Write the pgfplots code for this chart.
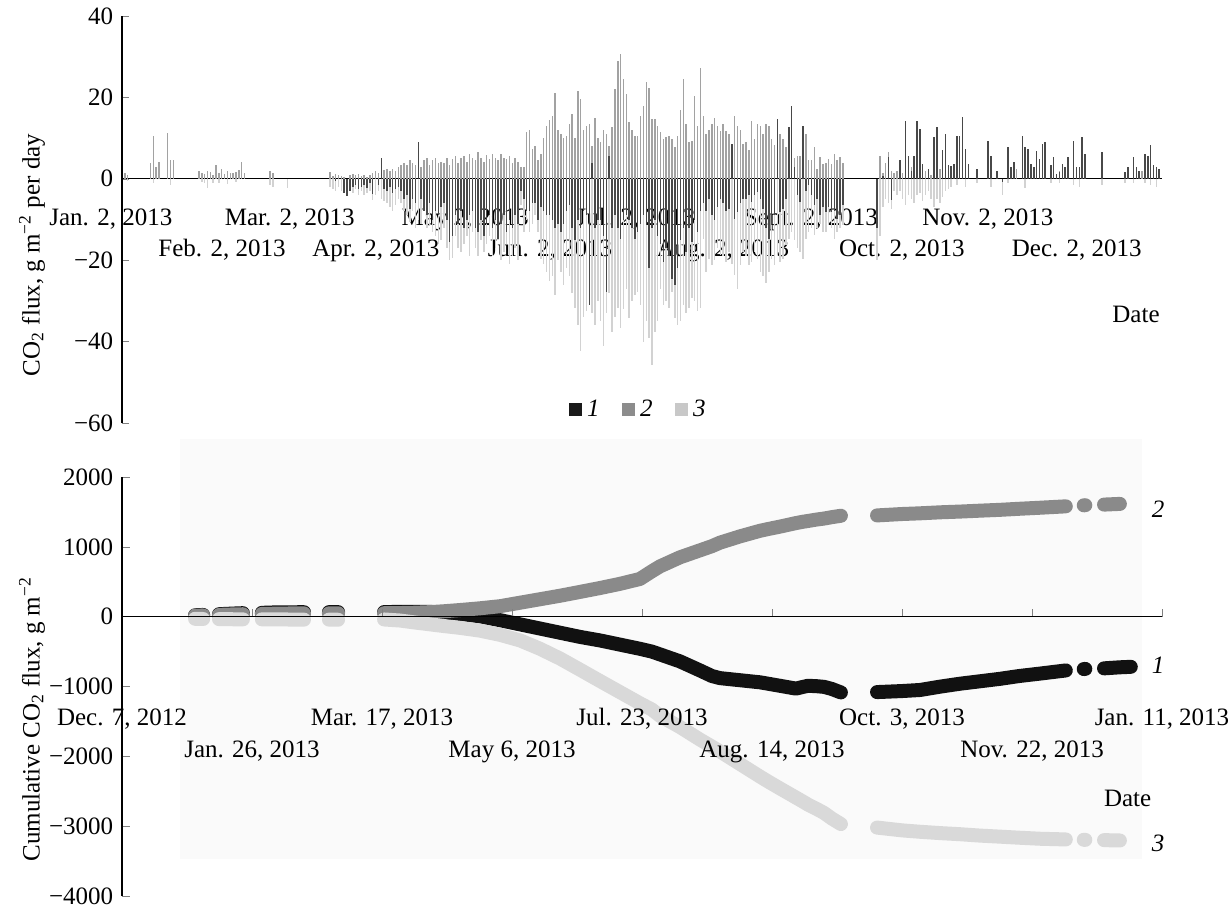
\documentclass[border=0pt]{standalone}
\usepackage{fontspec}
\setmainfont{Liberation Serif}
\usepackage{pgfplots}
\usepackage{pgfplotstable}
\pgfplotsset{compat=1.18}
\definecolor{cA}{HTML}{484848}
\definecolor{cB}{HTML}{A2A2A2}
\definecolor{cC}{HTML}{D2D2D2}
\definecolor{lA}{HTML}{1A1A1A}
\definecolor{lB}{HTML}{8C8C8C}
\definecolor{lC}{HTML}{C8C8C8}
\definecolor{kA}{HTML}{111111}
\definecolor{kB}{HTML}{8A8A8A}
\definecolor{kC}{HTML}{D9D9D9}

% daily CO2 flux: s1 = net flux, s2 = respiration, s3 = gross uptake (day of year)
\pgfplotstableread{
t s1 s2 s3
1 nan 1.4 nan
2 nan 1.0 -0.6
10 nan 4.0 nan
11 nan 10.5 -1.0
12 nan 3.0 nan
13 nan 4.2 nan
16 nan 11.2 nan
17 nan 4.5 -1.6
18 nan 4.6 nan
27 nan 1.8 nan
28 nan 1.5 -0.8
29 nan 1.2 -1.0
30 nan 1.8 -2.2
31 nan 1.6 nan
32 nan 1.0 -1.0
33 nan 3.3 nan
34 nan 1.5 -1.0
35 nan 2.5 nan
36 nan 1.2 nan
37 nan 1.8 -1.2
38 nan 1.5 nan
39 nan 1.4 nan
40 nan 1.6 -0.8
41 nan 2.2 nan
42 nan 4.2 nan
43 nan 1.5 nan
52 nan 1.8 -1.5
53 nan 1.5 -2.0
58 nan nan -2.2
73 nan 1.7 -2.0
74 nan 0.8 -2.5
75 -0.5 1.2 -3.0
76 nan 1.0 -2.0
77 nan 0.8 -3.0
78 -3.5 0.5 -3.5
79 -4.3 nan -4.0
80 -3.0 1.0 -3.0
81 -2.0 1.2 -3.5
82 -1.5 1.0 -2.5
83 -2.5 1.2 -4.0
84 -2.0 0.8 -3.0
85 -1.5 1.0 -4.0
86 -2.2 0.5 -3.5
87 -1.0 1.0 -3.0
88 -3.7 1.5 -5.3
89 nan 2 -4
90 -1.5 1.5 -3
91 5 2 -5
92 -2.5 2.2 -5.5
93 -3 2.5 -6
94 -2 2 -7
95 -3.5 2.5 -8
96 -2.5 2 -6.5
97 -2 3 -5
98 -3 3.5 -6
99 -5 4 -8
100 -4 3.3 -9
101 -7.3 4.5 -10.6
102 -5 4 -8
103 -6 3.5 -12
104 9 4 -10
105 -5 3 -11
106 -8 4.5 -8
107 -9 5 -12
108 -6 3.5 -11.5
109 -10 4.5 -13
110 -8 5 -14
111 -9 3.8 -16
112 -7 4.2 -15
113 -6 4 -12
114 -10 5 -17
115 -15.5 3.5 -20
116 -14 4.8 -19.5
117 -9 5.5 -14
118 -11 4 -17
119 -8 5 -18
120 -12 5.5 -16
121 -10 4.2 -14
122 -9 6 -19
123 -8 5 -13
124 -12 4.5 -17
125 -13 6.5 -19
126 -10 5 -15
127 -14 4.2 -18
128 -11 5.8 -16
129 -9 4.8 -14
130 -12 6 -19
131 -10 5.2 -17
132 -14.7 4.5 -15
133 -11 6.2 -20
134 -9 5 -18
135 -13 4.8 -16
136 -10 5.5 -21
137 -12 3.8 -19
138 -9 5 -17
139 -11 4.2 -20
140 -3 3 -6.5
141 -5 3 -13
142 -8 11.4 -10
143 -8 12 -13
144 -6 7.3 -11
145 -6 8 -9
146 -10 4.5 -13
147 -7 6 -19.6
148 -8 10 -21
149 -9 13 -23
150 -9 14.5 -25
151 -10 15.5 -24
152 -12 21 -28.6
153 -11 12 -20
154 -13 11 -23
155 -11 10 -26
156 -8 10.6 -22
157 -6.5 13.5 -24
158 -12 16 -28
159 -15 10 -31.8
160 -10 21.6 -36
161 -12 19.6 -42.4
162 -8 12 -34
163 -9 13 -32.6
164 -31 13.5 -31
165 4 8 -33
166 -12 15 -36
167 -10 10 -30
168 -10 9 -35
169 -14 12 -41
170 -27.8 11 -33
171 5.7 8 -28
172 -12 12.7 -37.6
173 -9 22 -34
174 -12 29 -31.8
175 -14.7 30.6 -36.7
176 -10 24.5 -32
177 -9 20.8 -27
178 -10 14 -34.3
179 -12 12 -30
180 -14.7 10.6 -28.6
181 -13 10.6 -27.8
182 -11 15.5 -31
183 -9 18 -40
184 -11.4 23.7 -35
185 -22 22.4 -39
186 -12.2 14.7 -45.7
187 -10 14.7 -37.6
188 -14 13 -35
189 -16 11.4 -27
190 -20.4 9.8 -31
191 -17 10.2 -30
192 -19 10.6 -31.8
193 -24.5 9.8 -27.8
194 -26 7.8 -34.3
195 -22 10.6 -35.9
196 -15 17 -35
197 -12 24.5 -31
198 -18 13.5 -33
199 -12 9 -31.8
200 -15.5 9.4 -29.4
201 -10 20.4 -30
202 -13 13 -32.6
203 -8 27.3 -31.8
204 -6 15.5 -14.7
205 -8 11 -22.9
206 -5 12 -19.6
207 -9 13.5 -21.2
208 -10 15 -20
209 -7 13 -17
210 -5 11.8 -18.8
211 -6 13.5 -19
212 -8 11.8 -20.4
213 -7.3 11 -18
214 8.6 7 -21
215 -9.8 15.5 -23.7
216 -8.2 13 -27
217 -6 12 -21.2
218 -5 8.6 -18
219 -5 9 -19
220 -4 7 -21.2
221 -5.7 14.3 -20.4
222 -4 9.8 -18
223 -3.3 13.5 -19.6
224 -5 13 -22.9
225 -7.3 11 -24
226 -12.2 13.5 -25.7
227 -14.7 13 -22.9
228 -11.4 9.8 -19.6
229 -9 8.2 -21.2
230 14.7 11 -18
231 -8.2 11 -20.4
232 -7.3 9.8 -19.6
233 -5 7.8 -16.3
234 12.7 6 -14.7
235 18 8 -13
236 2.8 5 -15
237 -4 5.7 -17.1
238 -5.7 5.7 -18
239 13 8 -19.6
240 -3 11 -14.7
241 -1.6 4.5 -13
242 -4 4.5 -12.2
243 -6.5 7.8 -13.9
244 -5 2.5 -12.2
245 -9 5.3 -11
246 -7 3.7 -13
247 -8.2 4 -13
248 -7 4.9 -11.4
249 -8.2 3.7 -12
250 -8 6.1 -14.7
251 -9.8 4.5 -13
252 -9 5.3 -12.2
253 -6.5 4 -11.4
265 -12 nan -20
266 nan 5.7 -14
267 0.8 1.5 -7
268 nan 4 -5
269 5.3 6.6 -6
270 -5.3 2 -7.3
271 nan 1.5 -3
272 nan 2 -4
273 4.5 2 -3
274 nan 1.5 -5
275 14.3 3 -6.5
276 5.7 2 -4
277 2 3 -5
278 5.7 3.5 -6
279 14.3 2 -4
280 12.2 1.5 -3.5
281 3.7 2.5 -5.5
282 nan 2 -4
283 2.4 1.5 -3
284 nan 1 -5
285 10.2 2.5 -7
286 12.7 2 -5
287 nan 2.5 -6
288 7 2 -4.5
289 11 1.5 -3
290 3.3 2 -2.5
291 3.1 1.5 -2
292 3.7 2 nan
293 10.6 1.5 -1.5
294 10.6 2 nan
295 15.1 2.5 nan
296 7.3 1.5 -2
297 3.7 nan nan
300 2.4 1 -1
304 9.4 2 nan
305 5.7 nan -2
307 2 nan nan
309 -0.8 nan -4
311 7.8 2 -1
312 2.9 1.5 nan
313 4.1 2 nan
314 nan 2.5 nan
316 10.6 2 nan
317 7.8 2 -2.3
318 7.3 2.5 nan
319 3.7 1.5 nan
320 2.9 2 nan
321 6.9 2 nan
322 4.9 1.5 nan
323 8.6 2.2 nan
324 9 2 nan
326 3.3 1.5 -1
327 5.3 2 nan
328 1.2 1 nan
329 1.6 2 -1
330 3.7 1.5 nan
331 2.9 2 nan
332 5.3 1.5 nan
334 9.4 1.5 -1.5
335 2.9 1.2 nan
336 2.9 2 -2
337 10.2 1.8 nan
338 6.1 1.5 nan
344 6.5 nan -1.5
352 1.6 1.5 -1
353 2.9 1 nan
355 5.3 2 -1
356 2.9 1.5 nan
357 2 1.8 nan
358 nan 2 nan
359 6.1 1.5 -1
360 5.7 2 nan
361 8.3 2 -1.5
362 3.3 2 nan
363 2.9 1.5 -2
364 2.4 1 nan
}\daily

% cumulative flux (days since Dec. 7, 2012)
\pgfplotstableread{
t c1 c2 c3
28.1 20 15 -30
29.6 22 16 -32
31.2 25 18 -33
nan nan nan nan
37.3 35 25 -35
40 40 30 -36
43 45 32 -37
46.5 50 35 -38
nan nan nan nan
53.8 55 40 -38
58 60 42 -40
62 62 45 -40
66 63 46 -41
70 64 47 -42
nan nan nan nan
79.6 65 48 -42
81.4 66 48 -43
83.1 66 49 -44
nan nan nan nan
100.8 66 50 -40
106.9 68 52 -55
112 70 56 -80
118.5 68 65 -110
124 60 78 -135
130 40 95 -160
137.7 5 120 -200
145.4 -50 150 -260
153.1 -110 200 -340
160.8 -170 250 -460
168.5 -230 300 -600
176.2 -290 355 -760
183.8 -340 410 -920
191.5 -400 470 -1080
199.2 -460 540 -1240
203.8 -500 650 -1330
206.9 -540 720 -1420
214.6 -640 850 -1580
222.3 -770 950 -1760
226.9 -850 1010 -1860
230 -880 1060 -1930
237.7 -910 1150 -2110
245.4 -940 1230 -2290
248.5 -960 1255 -2360
253.1 -990 1290 -2460
259.2 -1030 1340 -2590
262 -1005 1360 -2650
263.8 -990 1370 -2690
267 -995 1390 -2750
270 -1005 1405 -2810
273 -1035 1425 -2890
276.5 -1085 1445 -2970
nan nan nan nan
290.4 -1080 1450 -3020
300 -1065 1470 -3060
306.9 -1050 1480 -3080
315 -1000 1495 -3100
322.3 -960 1505 -3115
330 -925 1518 -3135
337.7 -890 1530 -3150
345 -850 1545 -3165
353.1 -815 1560 -3180
363 -770 1580 -3190
nan nan nan nan
369.9 -750 1595 -3195
370.5 -748 1596 -3196
nan nan nan nan
377.7 -740 1605 -3200
383.8 -725 1615 -3205
388 -718 nan nan
}\cumul

\begin{document}
\begin{tikzpicture}
\path[use as bounding box] (0,0) rectangle (491.6pt,364.4pt);
\fill[black!2] (72pt,21pt) rectangle (456.8pt,189pt);

% ---------- top panel ----------
\begin{axis}[
  at={(48.8pt,195.2pt)}, anchor=south west,
  scale only axis, width=416pt, height=162.8pt,
  xmin=0, xmax=365, ymin=-60, ymax=40,
  axis x line=middle, axis y line=left,
  axis line style={-, line width=0.55pt},
  hide obscured x ticks=false,
  tick align=inside, major tick length=2.8pt,
  ytick={-60,-40,-20,0,20,40},
  yticklabels={−60,−40,−20,0,20,40},
  xtick={1,35.1,58.9,89.1,120.4,150.2,180.4,210.9,241.8,273.7,303.9,335.1},
  xticklabels={{\hspace*{-11.2pt}Jan. 2, 2013},{\raisebox{-12.4pt}{Feb. 2, 2013}},{Mar. 2, 2013},{\raisebox{-12.4pt}{Apr. 2, 2013}},{May 2, 2013},{\raisebox{-12.4pt}{Jun. 2, 2013}},{Jul. 2, 2013},{\raisebox{-12.4pt}{Aug. 2, 2013}},{Sept. 2, 2013},{\raisebox{-12.4pt}{Oct. 2, 2013}},{Nov. 2, 2013},{\raisebox{-12.4pt}{Dec. 2, 2013}}},
  xtick style={draw=none},
  xticklabel style={anchor=base, yshift=-18.8pt, inner sep=0pt},
  every axis y label/.style={at={(rel axis cs:-0.0865,0.413)}, rotate=90, anchor=center},
  ylabel={CO\textsubscript{2} flux, g m\textsuperscript{−2} per day},
  every axis x label/.style={at={(rel axis cs:0.975,0.248)}, anchor=base},
  xlabel={Date},
  legend style={at={(rel axis cs:0.498,0.032)}, anchor=center, draw=none, fill=none,
    font=\itshape, inner sep=0pt,
    /tikz/every even column/.append style={column sep=7pt}},
  legend columns=3,
  clip=false,
]
\addplot[ycomb, no marks, draw=cC, line width=0.6pt, forget plot] table[x=t,y=s3]{\daily};
\addplot[ycomb, no marks, draw=cB, line width=0.6pt, forget plot] table[x=t,y=s2]{\daily};
\addplot[ycomb, no marks, draw=cA, line width=0.6pt, forget plot] table[x=t,y=s1]{\daily};
\addlegendimage{legend image code/.code={\fill[lA] (0pt,-2.4pt) rectangle (4.8pt,2.4pt);}}
\addlegendentry{1}
\addlegendimage{legend image code/.code={\fill[lB] (0pt,-2.4pt) rectangle (4.8pt,2.4pt);}}
\addlegendentry{2}
\addlegendimage{legend image code/.code={\fill[lC] (0pt,-2.4pt) rectangle (4.8pt,2.4pt);}}
\addlegendentry{3}
\end{axis}

% ---------- bottom panel ----------
\begin{axis}[
  at={(48.8pt,6pt)}, anchor=south west,
  scale only axis, width=416pt, height=167.6pt,
  xmin=0, xmax=400, ymin=-4000, ymax=2000,
  axis x line=middle, axis y line=left,
  axis line style={-, line width=0.55pt},
  axis on top,
  hide obscured x ticks=false,
  tick align=inside, major tick length=3pt,
  ytick={-4000,-3000,-2000,-1000,0,1000,2000},
  yticklabels={−4000,−3000,−2000,−1000,0,1000,2000},
  xtick={0,50,100,150,200,250,300,350,400},
  xticklabels={{Dec. 7, 2012},{\raisebox{-12.8pt}{Jan. 26, 2013}},{Mar. 17, 2013},{\raisebox{-12.8pt}{May 6, 2013}},{Jul. 23, 2013},{\raisebox{-12.8pt}{Aug. 14, 2013}},{Oct. 3, 2013},{\raisebox{-12.8pt}{Nov. 22, 2013}},{Jan. 11, 2013}},
  xticklabel style={anchor=base, yshift=-43.6pt, inner sep=0pt},
  every axis y label/.style={at={(rel axis cs:-0.0865,0.422)}, rotate=90, anchor=center},
  ylabel={Cumulative CO\textsubscript{2} flux, g m\textsuperscript{−2}},
  every axis x label/.style={at={(rel axis cs:0.967,0.213)}, anchor=base},
  xlabel={Date},
  unbounded coords=jump,
  clip=false,
]
\addplot[kA, line width=5.6pt, line cap=round, line join=round] table[x=t,y=c1]{\cumul};
\addplot[kB, line width=5.6pt, line cap=round, line join=round] table[x=t,y=c2]{\cumul};
\addplot[kC, line width=5.6pt, line cap=round, line join=round] table[x=t,y=c3]{\cumul};
\node[font=\itshape] at (axis cs:398.5,1535) {2};
\node[font=\itshape] at (axis cs:398.5,-690) {1};
\node[font=\itshape] at (axis cs:398.5,-3252) {3};
\end{axis}
\end{tikzpicture}
\end{document}
